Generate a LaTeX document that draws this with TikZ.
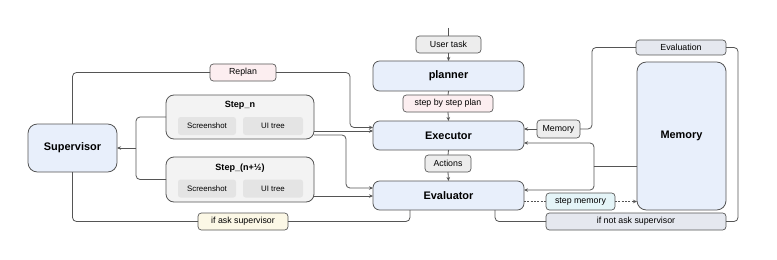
\documentclass[tikz,border=0pt]{standalone}
\usepackage{fontspec}
\setmainfont{Liberation Sans}
\usetikzlibrary{arrows.meta}
\definecolor{lc}{HTML}{555555}
\definecolor{blu}{HTML}{E8EFFB}
\definecolor{grp}{HTML}{F3F3F3}
\definecolor{inr}{HTML}{E4E4E4}
\definecolor{lbl}{HTML}{EDEDED}
\definecolor{pnk}{HTML}{FCEEF0}
\definecolor{ylw}{HTML}{FCF8E6}
\definecolor{lav}{HTML}{E5E8EF}
\definecolor{cyn}{HTML}{E5F5F8}
\begin{document}
\begin{tikzpicture}[x=0.75pt,y=-0.75pt,
  every node/.style={inner sep=0pt,outer sep=0pt},
  con/.style={draw=lc,line width=0.6pt,rounded corners=3pt},
  arr/.style={con,-{Stealth[length=3pt,width=2.6pt]}},
  big/.style={draw=lc,line width=0.6pt,fill=blu,rounded corners=5pt,font=\bfseries\fontsize{8.2}{9}\selectfont},
  lab/.style={draw=lc,line width=0.5pt,rounded corners=2.5pt,font=\fontsize{6.6}{8}\selectfont},
  grpbox/.style={draw=lc,line width=0.6pt,fill=grp,rounded corners=6pt},
  inbox/.style={fill=inr,rounded corners=2pt,font=\fontsize{5.9}{7}\selectfont,minimum height=18*0.75pt},
  sz/.style 2 args={minimum width=#1*0.75pt,minimum height=#2*0.75pt}
]
\fill[white] (0,0) rectangle (777,260);
% central column
\node[lab,fill=lbl,sz={65}{17}] (usertask) at (448.5,44.5) {User task};
\node[big,sz={151}{30}] (planner) at (448.5,76) {planner};
\node[lab,fill=pnk,sz={90}{17}] (plan) at (448,103.5) {step by step plan};
\node[big,sz={151}{29}] (exec) at (448.5,135.5) {Executor};
\node[lab,fill=lbl,sz={46}{17}] (actions) at (448,163.5) {Actions};
\node[big,sz={151}{29}] (eval) at (448.5,195.5) {Evaluator};
% right side
\node[lab,fill=lbl,sz={43}{18}] (memsmall) at (558.5,129) {Memory};
\node[lab,fill=lav,sz={90}{15}] (evaluation) at (681,47.5) {Evaluation};
\node[big,rounded corners=7pt,sz={89}{148}] (memory) at (681.5,136) {Memory};
\node[lab,fill=cyn,sz={69}{17}] (stepmem) at (580.5,201.5) {step memory};
\node[lab,fill=lav,sz={180}{17}] (ifnot) at (636,221.5) {if not ask supervisor};
% left side
\node[big,rounded corners=7pt,sz={89}{48}] (supervisor) at (72.5,148) {Supervisor};
\node[grpbox,sz={148}{44}] (stepn) at (240,117) {};
\node[font=\bfseries\fontsize{6.8}{8}\selectfont] (stepnt) at (240,105) {Step\_n};
\node[inbox,minimum width=58*0.75pt] (ss1) at (207,126) {Screenshot};
\node[inbox,minimum width=60*0.75pt] (ui1) at (273,126) {UI tree};
\node[grpbox,sz={148}{45}] (stepn2) at (240,179.5) {};
\node[font=\bfseries\fontsize{6.8}{8}\selectfont] (stepn2t) at (240,168) {Step\_(n+½)};
\node[inbox,minimum width=58*0.75pt] (ss2) at (207,188.5) {Screenshot};
\node[inbox,minimum width=60*0.75pt] (ui2) at (273,188.5) {UI tree};
\node[lab,fill=pnk,sz={66}{17}] (replan) at (243,72.5) {Replan};
\node[lab,fill=ylw,sz={90}{17}] (ifask) at (243,221.5) {if ask supervisor};
% helper coordinates
\coordinate (top) at (448.5,28);
\coordinate (mj) at (594,166);
\coordinate (bx) at (136,148);
\coordinate (kx) at (346,0);
\coordinate (rx) at (350,0);
\coordinate (ex) at (592,0);
\coordinate (fx) at (738,0);
\coordinate (t1) at ([yshift=6pt]exec.west);
\coordinate (t2) at ([yshift=5.6pt]eval.west);
% central flow
\draw[con] (top) -- (usertask.north);
\draw[arr] (usertask.south) -- (planner.north);
\draw[con] (planner.south) -- (plan.north);
\draw[arr] (plan.south) -- (exec.north);
\draw[con] (exec.south) -- (actions.north);
\draw[arr] (actions.south) -- (eval.north);
% memory loop on the right
\draw[arr] (memsmall.west) -- (memsmall.west -| exec.east);
\draw[con] (memsmall.east) -| (ex |- evaluation.west) -- (evaluation.west);
\draw[con] (evaluation.east) -| (fx |- ifnot.east) -- (ifnot.east);
\draw[con] (ifnot.west) -| ([xshift=46.5*0.75pt]eval.south);
\draw[con] (memory.west |- mj) -- (mj);
\draw[arr] (mj) |- ([yshift=-5.6pt]exec.east);
\draw[arr] (mj) |- ([yshift=4.1pt]eval.east);
\draw[lc,line width=0.5pt,dash pattern=on 1.5pt off 1pt] ([yshift=-4.5pt]eval.east) -- (stepmem.west);
\draw[lc,line width=0.5pt,dash pattern=on 1.5pt off 1pt,-{Stealth[length=3pt,width=2.6pt]}] (stepmem.east) -- (stepmem.east -| memory.west);
% left side
\draw[con] (supervisor.north) |- (replan.west);
\draw[arr] (replan.east) -| (rx |- t1) -- (t1);
\draw[arr] ([yshift=-10.5pt]stepn.east) coordinate (s1) -- (s1 -| exec.west);
\draw[arr] ([yshift=-13.5pt]stepn.east) coordinate (s2) -| (kx |- t2) -- (t2);
\draw[arr] ([yshift=-12.4pt]stepn2.east) coordinate (s3) -- (s3 -| eval.west);
\draw[con] (stepn.west) -| (bx) |- (stepn2.west);
\draw[arr] (bx) -- (supervisor.east);
\draw[con] (supervisor.south) |- (ifask.west);
\draw[con] (ifask.east) -| ([xshift=-28.9pt]eval.south);
\end{tikzpicture}
\end{document}
